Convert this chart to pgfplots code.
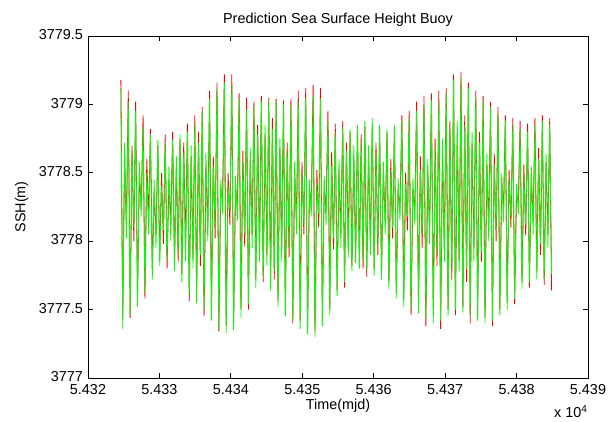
\documentclass[border=0pt]{standalone}
\usepackage{fontspec}
\setmainfont{Liberation Sans}
\usepackage{pgfplots}
\usepackage{pgfplotstable}
\pgfplotsset{compat=1.18}
\pgfplotstableread{
t g r
54324.60 3779.12 3779.18
54324.86 3777.36 3777.42
54325.12 3778.72 3778.62
54325.38 3778.02 3778.12
54325.64 3779.02 3779.10
54325.90 3777.46 3777.44
54326.16 3778.66 3778.70
54326.42 3778.10 3778.00
54326.67 3778.95 3779.02
54326.93 3777.52 3777.58
54327.19 3778.58 3778.48
54327.45 3778.18 3778.25
54327.71 3778.84 3778.92
54327.97 3777.62 3777.58
54328.23 3778.50 3778.60
54328.49 3778.05 3778.15
54328.74 3778.78 3778.82
54329.00 3777.72 3777.80
54329.26 3778.45 3778.35
54329.52 3777.95 3778.05
54329.78 3778.74 3778.70
54330.04 3777.82 3777.88
54330.30 3778.40 3778.50
54330.56 3778.08 3777.98
54330.81 3778.72 3778.78
54331.07 3777.86 3777.80
54331.33 3778.55 3778.45
54331.59 3778.00 3778.12
54331.85 3778.74 3778.80
54332.11 3777.78 3777.84
54332.37 3778.62 3778.55
54332.63 3777.92 3777.85
54332.88 3778.78 3778.75
54333.14 3777.70 3777.76
54333.40 3778.65 3778.72
54333.66 3777.85 3777.95
54333.92 3778.80 3778.86
54334.18 3777.60 3777.56
54334.44 3778.70 3778.62
54334.70 3777.80 3777.88
54334.95 3778.86 3778.92
54335.21 3777.55 3777.60
54335.47 3778.72 3778.80
54335.73 3777.90 3777.82
54335.99 3778.95 3778.98
54336.25 3777.50 3777.45
54336.51 3778.65 3778.55
54336.77 3778.00 3778.10
54337.02 3779.04 3779.10
54337.28 3777.42 3777.48
54337.54 3778.55 3778.62
54337.80 3778.12 3778.02
54338.06 3779.12 3779.16
54338.32 3777.36 3777.34
54338.58 3778.45 3778.38
54338.84 3778.20 3778.30
54339.09 3779.16 3779.22
54339.35 3777.33 3777.38
54339.61 3778.40 3778.50
54339.87 3778.22 3778.12
54340.13 3779.14 3779.22
54340.39 3777.35 3777.40
54340.65 3778.48 3778.40
54340.91 3778.15 3778.24
54341.16 3779.04 3779.08
54341.42 3777.44 3777.50
54341.68 3778.58 3778.66
54341.94 3778.05 3777.96
54342.20 3778.96 3779.05
54342.46 3777.54 3777.50
54342.72 3778.68 3778.60
54342.98 3777.95 3778.05
54343.23 3778.98 3779.02
54343.49 3777.66 3777.72
54343.75 3778.78 3778.85
54344.01 3777.85 3777.92
54344.27 3779.02 3779.06
54344.53 3777.74 3777.70
54344.79 3778.85 3778.78
54345.05 3777.82 3777.90
54345.30 3779.03 3779.05
54345.56 3777.64 3777.68
54345.82 3778.82 3778.90
54346.08 3777.78 3777.72
54346.34 3779.02 3779.04
54346.60 3777.52 3777.56
54346.86 3778.75 3778.68
54347.12 3777.85 3777.95
54347.37 3779.00 3779.03
54347.63 3777.45 3777.48
54347.89 3778.66 3778.72
54348.15 3777.95 3777.88
54348.41 3779.00 3779.04
54348.67 3777.42 3777.40
54348.93 3778.58 3778.50
54349.19 3778.05 3778.15
54349.44 3779.03 3779.10
54349.70 3777.36 3777.42
54349.96 3778.50 3778.58
54350.22 3778.12 3778.05
54350.48 3779.05 3779.12
54350.74 3777.32 3777.36
54351.00 3778.45 3778.38
54351.26 3778.18 3778.28
54351.52 3779.06 3779.14
54351.78 3777.30 3777.34
54352.04 3778.42 3778.52
54352.30 3778.20 3778.10
54352.55 3779.04 3779.12
54352.81 3777.38 3777.42
54353.07 3778.48 3778.40
54353.33 3778.12 3778.22
54353.59 3778.88 3778.95
54353.85 3777.46 3777.50
54354.11 3778.55 3778.65
54354.37 3778.02 3777.94
54354.62 3778.80 3778.86
54354.88 3777.60 3777.64
54355.14 3778.60 3778.52
54355.40 3777.95 3778.05
54355.66 3778.84 3778.88
54355.92 3777.70 3777.66
54356.18 3778.66 3778.72
54356.44 3777.88 3777.96
54356.69 3778.82 3778.80
54356.95 3777.78 3777.82
54357.21 3778.70 3778.62
54357.47 3777.84 3777.90
54357.73 3778.85 3778.82
54357.99 3777.80 3777.84
54358.25 3778.72 3778.78
54358.51 3777.86 3777.80
54358.76 3778.88 3778.84
54359.02 3777.78 3777.74
54359.28 3778.70 3778.64
54359.54 3777.90 3777.98
54359.80 3778.90 3778.86
54360.06 3777.75 3777.80
54360.32 3778.64 3778.72
54360.58 3777.98 3777.90
54360.83 3778.85 3778.82
54361.09 3777.72 3777.76
54361.35 3778.58 3778.50
54361.61 3778.05 3778.15
54361.87 3778.82 3778.80
54362.13 3777.65 3777.70
54362.39 3778.52 3778.60
54362.65 3778.10 3778.02
54362.90 3778.85 3778.84
54363.16 3777.58 3777.62
54363.42 3778.46 3778.38
54363.68 3778.15 3778.24
54363.94 3778.88 3778.92
54364.20 3777.52 3777.56
54364.46 3778.42 3778.50
54364.72 3778.18 3778.08
54364.97 3778.90 3778.95
54365.23 3777.50 3777.46
54365.49 3778.46 3778.38
54365.75 3778.12 3778.22
54366.01 3778.95 3779.02
54366.27 3777.47 3777.52
54366.53 3778.52 3778.62
54366.79 3778.05 3777.95
54367.04 3779.00 3779.06
54367.30 3777.44 3777.38
54367.56 3778.60 3778.52
54367.82 3777.98 3778.08
54368.08 3779.03 3779.08
54368.34 3777.40 3777.46
54368.60 3778.68 3778.75
54368.86 3777.90 3777.82
54369.11 3779.02 3779.10
54369.37 3777.42 3777.36
54369.63 3778.75 3778.66
54369.89 3777.85 3777.94
54370.15 3779.08 3779.12
54370.41 3777.45 3777.50
54370.67 3778.82 3778.88
54370.93 3777.80 3777.72
54371.18 3779.18 3779.22
54371.44 3777.50 3777.46
54371.70 3778.88 3778.80
54371.96 3777.78 3777.86
54372.22 3779.20 3779.24
54372.48 3777.48 3777.52
54372.74 3778.85 3778.92
54373.00 3777.80 3777.70
54373.25 3779.12 3779.16
54373.51 3777.45 3777.40
54373.77 3778.80 3778.72
54374.03 3777.85 3777.95
54374.29 3779.06 3779.10
54374.55 3777.42 3777.46
54374.81 3778.72 3778.80
54375.07 3777.92 3777.85
54375.32 3779.02 3779.06
54375.58 3777.40 3777.44
54375.84 3778.64 3778.56
54376.10 3778.00 3778.10
54376.36 3778.98 3779.02
54376.62 3777.42 3777.38
54376.88 3778.56 3778.64
54377.14 3778.08 3778.00
54377.40 3778.94 3778.98
54377.66 3777.46 3777.50
54377.92 3778.50 3778.42
54378.18 3778.14 3778.24
54378.43 3778.88 3778.92
54378.69 3777.50 3777.55
54378.95 3778.45 3778.52
54379.21 3778.18 3778.10
54379.47 3778.85 3778.90
54379.73 3777.58 3777.54
54379.99 3778.42 3778.34
54380.25 3778.20 3778.30
54380.50 3778.82 3778.88
54380.76 3777.65 3777.70
54381.02 3778.48 3778.56
54381.28 3778.12 3778.04
54381.54 3778.80 3778.86
54381.80 3777.70 3777.66
54382.06 3778.55 3778.48
54382.32 3778.05 3778.15
54382.57 3778.85 3778.90
54382.83 3777.72 3777.78
54383.09 3778.60 3778.68
54383.35 3777.98 3777.90
54383.61 3778.88 3778.92
54383.87 3777.72 3777.68
54384.13 3778.64 3778.58
54384.39 3777.95 3778.05
54384.64 3778.86 3778.90
54384.90 3777.76 3777.64
}\ssh
\begin{document}
\fontsize{10.8}{13}\selectfont
\begin{tikzpicture}[font=\fontsize{10.8}{13}\selectfont]
\begin{axis}[
  name=ax,
  scale only axis,
  width=375pt, height=256.5pt,
  xmin=54320, xmax=54390,
  ymin=3777, ymax=3779.5,
  xtick={54320,54330,54340,54350,54360,54370,54380,54390},
  xticklabels={5.432,5.433,5.434,5.435,5.436,5.437,5.438,5.439},
  ytick={3777,3777.5,3778,3778.5,3779,3779.5},
  yticklabels={3777,3777.5,3778,3778.5,3779,3779.5},
  scaled x ticks=false, scaled y ticks=false,
  /pgf/number format/assume math mode=true,
  tick align=inside,
  tick pos=both,
  major tick length=3.75pt,
  axis line style={black, line width=0.6pt},
  every tick/.style={black, line width=0.6pt},
  xticklabel style={yshift=-1pt},
  yticklabel style={yshift=1pt},
  title={Prediction Sea Surface Height Buoy},
  title style={at={(axis description cs:0.5,1)}, anchor=center, yshift=6pt},
  xlabel={Time(mjd)},
  xlabel style={at={(axis description cs:0.5,0)}, anchor=center, yshift=-21pt},
  ylabel={SSH(m)},
  ylabel style={at={(axis description cs:0,0.5)}, anchor=center, rotate=0, yshift=49.7pt},
]
\addplot[red, line width=0.6pt, mark=none] table[x=t, y=r] {\ssh};
\addplot[green, line width=0.6pt, mark=none] table[x=t, y=g] {\ssh};
\end{axis}
\node[anchor=base east, inner sep=0pt] at ([yshift=-29.5pt]ax.south east) {x 10\textsuperscript{4}};
\pgfresetboundingbox
\path ([shift={(-66pt,-32.25pt)}]ax.south west) rectangle ([shift={(18pt,27pt)}]ax.north east);
\end{tikzpicture}
\end{document}
